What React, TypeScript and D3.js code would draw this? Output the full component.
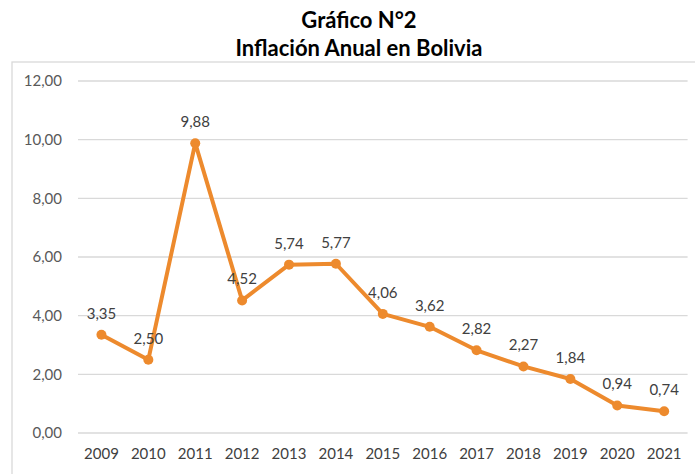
import React from "react";
import * as d3 from "d3";

const years = ["2009","2010","2011","2012","2013","2014","2015","2016","2017","2018","2019","2020","2021"];
const inflation = [3.35, 2.50, 9.88, 4.52, 5.74, 5.77, 4.06, 3.62, 2.82, 2.27, 1.84, 0.94, 0.74];
const yTicks = [0, 2, 4, 6, 8, 10, 12];
const titleLines = ["Gráfico N°2", "Inflación Anual en Bolivia"];

const W = 695, H = 474;
const font = "Lato, Carlito, Calibri, 'Open Sans', sans-serif";
const fmt = (v: number) => v.toFixed(2).replace(".", ",");

export default function App() {
  const x = d3.scaleBand<string>().domain(years).range([78, 687.6]).padding(0);
  const y = d3.scaleLinear().domain([0, 12]).range([433, 81]);
  const cx = (d: string) => (x(d) as number) + x.bandwidth() / 2;
  const line = d3.line<number>().x((_, i) => cx(years[i])).y((d) => y(d));
  const orange = "#ED8A2D";

  return (
    <svg width={W} height={H} style={{ position: "absolute", left: 0, top: 0 }}>
      <rect x={0} y={0} width={W} height={H} fill="#fff" />
      <rect x={12} y={62} width={W + 10} height={H} fill="#fff" stroke="#D9D9D9" strokeWidth={1.3} />
      {titleLines.map((t, i) => (
        <text key={t} x={359} y={28 + i * 28} textAnchor="middle" fontFamily={font} fontWeight="bold" fontSize={22} fill="#000">{t}</text>
      ))}
      {yTicks.map((t) => (
        <g key={t}>
          <line x1={78} x2={687.6} y1={y(t)} y2={y(t)} stroke="#D9D9D9" strokeWidth={1.3} />
          <text x={62} y={y(t)} dy="0.35em" textAnchor="end" fontFamily={font} fontSize={15} fill="#595959">{fmt(t)}</text>
        </g>
      ))}
      {years.map((yr) => (
        <text key={yr} x={cx(yr)} y={459} textAnchor="middle" fontFamily={font} fontSize={15} fill="#404040">{yr}</text>
      ))}
      <path d={line(inflation) || ""} fill="none" stroke={orange} strokeWidth={4} strokeLinejoin="round" />
      {inflation.map((v, i) => (
        <g key={i}>
          <circle cx={cx(years[i])} cy={y(v)} r={5} fill={orange} />
          <text x={cx(years[i])} y={y(v) - 16} textAnchor="middle" fontFamily={font} fontSize={15} fill="#404040">{fmt(v)}</text>
        </g>
      ))}
    </svg>
  );
}
